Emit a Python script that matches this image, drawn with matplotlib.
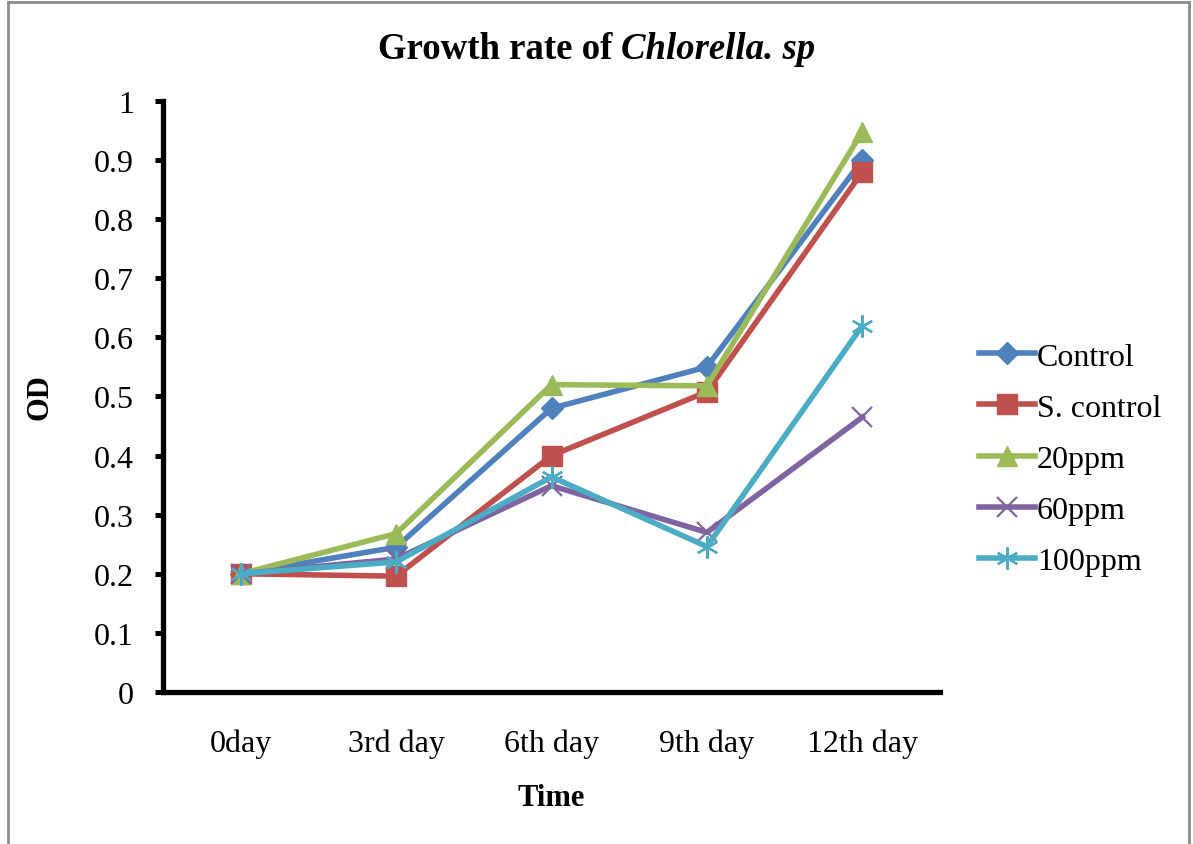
import matplotlib.pyplot as plt
from matplotlib.lines import Line2D

plt.rcParams["font.family"] = ["Liberation Serif", "DejaVu Serif"]

# Data
days = ["0day", "3rd day", "6th day", "9th day", "12th day"]
control = [0.2, 0.245, 0.48, 0.55, 0.90]
s_control = [0.2, 0.196, 0.40, 0.508, 0.88]
ppm20 = [0.2, 0.268, 0.52, 0.518, 0.948]
ppm60 = [0.2, 0.225, 0.349, 0.27, 0.465]
ppm100 = [0.2, 0.22, 0.364, 0.246, 0.62]

fig = plt.figure(figsize=(11.93, 8.45), dpi=100)
ax = fig.add_axes([0.1366, 0.1799, 0.6514, 0.6994])

x = list(range(len(days)))
lw = 4
ax.plot(x, control, color="#4F81BD", lw=lw, marker="D", ms=11,
        mec="#4F81BD", label="Control")
ax.plot(x, s_control, color="#C0504D", lw=lw, marker="s", ms=14,
        mec="#C0504D", label="S. control")
ax.plot(x, ppm20, color="#9BBB59", lw=lw, marker="^", ms=15,
        mec="#9BBB59", label="20ppm")
ax.plot(x, ppm60, color="#8064A2", lw=lw, marker="x", ms=14, mew=1.6,
        label="60ppm")
ax.plot(x, ppm100, color="#4BACC6", lw=lw, marker=(6, 2, 0), ms=16, mew=1.6,
        label="100ppm")

ax.set_xlim(-0.5, 4.5)
ax.set_ylim(0, 1)
ax.set_xticks(x)
ax.set_xticklabels(days)
ax.set_yticks([i / 10 for i in range(11)])
ax.set_yticklabels(["0"] + ["0.%d" % i for i in range(1, 10)] + ["1"])

for side in ["top", "right"]:
    ax.spines[side].set_visible(False)
for side in ["left", "bottom"]:
    ax.spines[side].set_linewidth(3.8)
ax.tick_params(axis="y", direction="out", length=6, width=3.6, pad=15,
               labelsize=23)
ax.tick_params(axis="x", length=0, pad=26, labelsize=23)

ax.set_ylabel("OD", fontsize=22, fontweight="bold", labelpad=28)
ax.set_xlabel("Time", fontsize=22, fontweight="bold", labelpad=18)

# title: bold part + bold italic part, centred together
renderer = fig.canvas.get_renderer()
t1 = fig.text(0, 0.941, "Growth rate of ", fontsize=26.5, fontweight="bold",
              va="center")
t2 = fig.text(0, 0.941, "Chlorella. sp", fontsize=26.5, fontweight="bold",
              style="italic", va="center")
w1 = t1.get_window_extent(renderer).width / fig.bbox.width
w2 = t2.get_window_extent(renderer).width / fig.bbox.width
x0 = 0.5 - (w1 + w2) / 2
t1.set_x(x0)
t2.set_x(x0 + w1)

ax.legend(loc="center left", bbox_to_anchor=(0.821, 0.4556),
          bbox_transform=fig.transFigure, frameon=False, borderpad=0,
          borderaxespad=0, fontsize=23, handlelength=1.75,
          handletextpad=0.05, labelspacing=0.68)

# gray chart frame
for xs, ys in [([0.007, 0.007], [0, 0.996]), ([0.007, 0.997], [0.996, 0.996]),
               ([0.997, 0.997], [0.996, 0])]:
    fig.add_artist(Line2D(xs, ys, transform=fig.transFigure,
                          color="#8c8c8c", lw=2))

fig.savefig("out.png", dpi=100)
